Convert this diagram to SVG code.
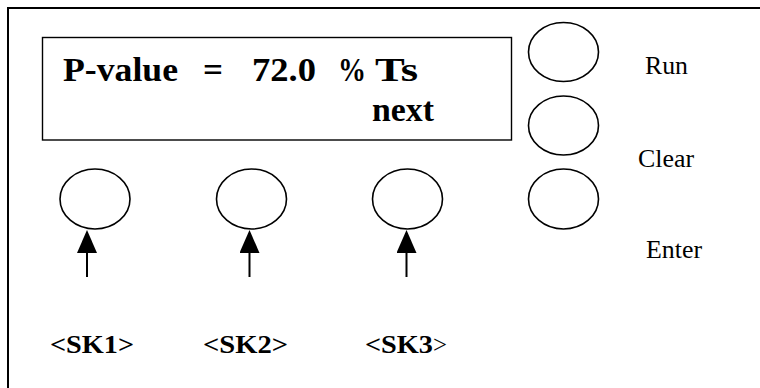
<svg xmlns="http://www.w3.org/2000/svg" width="760" height="388" viewBox="0 0 760 388">
<style>
.frame{fill:none;stroke:#000;stroke-width:2}
.lcd{fill:#fff;stroke:#000;stroke-width:1.4}
.btn{fill:#fff;stroke:#000;stroke-width:1.6}
.arr{stroke:#000;stroke-width:2;fill:none}
</style>
<defs>
<marker id="ah" viewBox="0 0 23 20" refX="20" refY="10" markerWidth="23" markerHeight="20" orient="auto" markerUnits="userSpaceOnUse">
<path d="M0,0 L23,10 L0,20 Z" fill="#000"/>
</marker>
</defs>
<rect width="760" height="388" fill="#fff"/>
<rect id="panel" class="frame" x="8" y="8" width="800" height="420"/>
<g font-family="Liberation Serif" fill="#000">
<g id="display" font-weight="bold" font-size="34">
<rect class="lcd" x="42.5" y="37.5" width="469" height="102.5"/>
<text x="63" y="81" textLength="115" lengthAdjust="spacingAndGlyphs">P-value</text>
<text x="203" y="81" textLength="20" lengthAdjust="spacingAndGlyphs">=</text>
<text x="252" y="81" textLength="64" lengthAdjust="spacingAndGlyphs">72.0</text>
<text x="338" y="81" textLength="28" lengthAdjust="spacingAndGlyphs">%</text>
<text x="375" y="81" textLength="43" lengthAdjust="spacingAndGlyphs">Ts</text>
<text x="372" y="121" textLength="62" lengthAdjust="spacingAndGlyphs">next</text>
</g>
<g id="sk1"><ellipse class="btn" cx="95" cy="199" rx="35" ry="30"/><text font-weight="bold" font-size="25" x="50" y="353" textLength="84" lengthAdjust="spacingAndGlyphs">&lt;SK1&gt;</text></g>
<g id="sk2"><ellipse class="btn" cx="251.5" cy="199" rx="35" ry="30"/><text font-weight="bold" font-size="25" x="203" y="353" textLength="85" lengthAdjust="spacingAndGlyphs">&lt;SK2&gt;</text></g>
<g id="sk3"><ellipse class="btn" cx="407.5" cy="199" rx="35" ry="30"/><text font-weight="bold" font-size="25" x="365" y="353" textLength="68" lengthAdjust="spacingAndGlyphs">&lt;SK3</text><text font-size="25" x="433" y="353" textLength="14" lengthAdjust="spacingAndGlyphs">&gt;</text></g>
<g id="run"><ellipse class="btn" cx="563.5" cy="52" rx="35" ry="29.5"/><text font-size="25" x="645" y="73.5" textLength="43" lengthAdjust="spacingAndGlyphs">Run</text></g>
<g id="clear"><ellipse class="btn" cx="563.5" cy="125.5" rx="35" ry="29.5"/><text font-size="25" x="638" y="166.5" textLength="56" lengthAdjust="spacingAndGlyphs">Clear</text></g>
<g id="enter"><ellipse class="btn" cx="563.5" cy="199" rx="35" ry="30"/><text font-size="25" x="646" y="257.5" textLength="56" lengthAdjust="spacingAndGlyphs">Enter</text></g>
</g>
<g id="connectors">
<line class="arr" x1="87" y1="277" x2="87" y2="233" marker-end="url(#ah)"/>
<line class="arr" x1="249.5" y1="277" x2="249.5" y2="233" marker-end="url(#ah)"/>
<line class="arr" x1="406.5" y1="277" x2="406.5" y2="233" marker-end="url(#ah)"/>
</g>
</svg>
